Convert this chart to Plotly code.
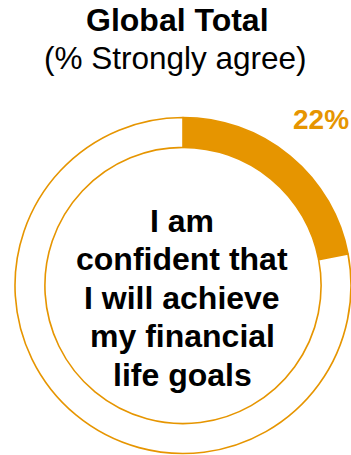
import plotly.graph_objects as go

# Survey result: share of respondents who strongly agree
labels = ["Strongly agree", "Other"]
values = [22, 78]
title_text = "Global Total"
subtitle_text = "(% Strongly agree)"
statement_lines = ["I am", "confident that", "I will achieve", "my financial", "life goals"]

ORANGE = "#E69500"
FONT = "Liberation Sans, Arial, sans-serif"
W, H = 351, 455


def py(px):
    """Convert a pixel offset from the top into paper y."""
    return 1 - px / H


fig = go.Figure(
    go.Pie(
        labels=labels,
        values=values,
        hole=0.822,
        sort=False,
        direction="clockwise",
        rotation=0,
        marker=dict(colors=[ORANGE, "white"], line=dict(color=ORANGE, width=1.6)),
        textinfo="none",
        hoverinfo="label+percent",
        showlegend=False,
        domain=dict(x=[(183 - 168) / W, (183 + 168) / W],
                    y=[(H - 285.5 - 168) / H, (H - 285.5 + 168) / H]),
    )
)

annotations = [
    dict(text=f"<b>{title_text}</b>", x=177 / W, y=py(20.5),
         font=dict(size=32, color="#000000", family=FONT)),
    dict(text=subtitle_text, x=175 / W, y=py(57.5),
         font=dict(size=31.5, color="#000000", family=FONT)),
    dict(text=f"<b>{values[0]}%</b>", x=321 / W, y=py(119.5),
         font=dict(size=28, color=ORANGE, family=FONT)),
]

first_center = 220.5
pitch = 38.6
for i, line in enumerate(statement_lines):
    annotations.append(
        dict(text=f"<b>{line}</b>", x=182 / W, y=py(first_center + i * pitch),
             font=dict(size=32, color="#000000", family=FONT))
    )

for a in annotations:
    a.update(xref="paper", yref="paper", showarrow=False,
             xanchor="center", yanchor="middle")

fig.update_layout(
    width=W,
    height=H,
    margin=dict(l=0, r=0, t=0, b=0),
    paper_bgcolor="white",
    plot_bgcolor="white",
    annotations=annotations,
)

fig.write_html("out.html", config={"displayModeBar": False})
